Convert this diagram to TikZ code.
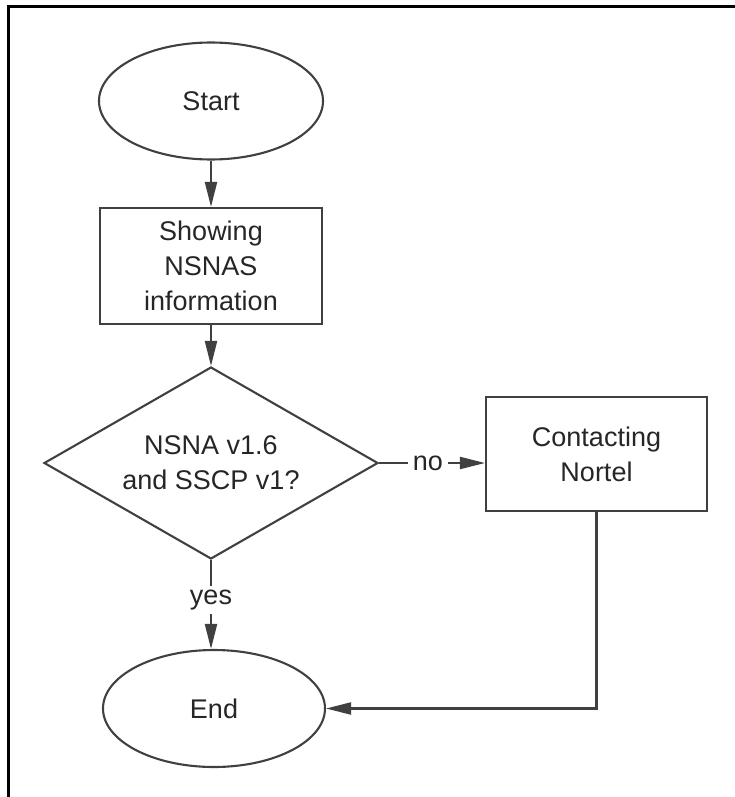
\documentclass[tikz,border=0pt]{standalone}
\usepackage{fontspec}
\setmainfont{Liberation Sans}
\usetikzlibrary{shapes.geometric,arrows.meta}
\begin{document}
\begin{tikzpicture}[x=1pt,y=-1pt,
  every node/.style={font=\fontsize{27}{35}\selectfont, text=black!85},
  shapeline/.style={draw=black!75, line width=2.1pt},
  term/.style={shapeline, ellipse, minimum width=224pt, minimum height=117pt, inner sep=0pt},
  proc/.style={shapeline, rectangle, minimum width=222pt, minimum height=116pt, inner sep=0pt, align=center},
  decis/.style={shapeline, diamond, aspect=1.74, minimum width=334pt, minimum height=192pt, inner sep=0pt, align=center},
  conn/.style={draw=black!75, line width=2.1pt, -{Triangle[length=25pt,width=12pt]}},
  lbl/.style={fill=white, inner sep=5pt}
]
\useasboundingbox (0,0) rectangle (735,797);
% frame (top and left)
\draw[line width=3pt, black] (8,797) -- (8,7) -- (735,7);

\node[term] (start) at (211,101) {Start};
\node[proc] (show) at (211,266) {Showing\\NSNAS\\information};
\node[decis] (dec) at (211,463) {NSNA v1.6\\and SSCP v1?};
\node[proc, minimum width=221pt, minimum height=114pt] (cont) at (596.5,454) {Contacting\\Nortel};
\node[term, minimum width=222pt] (end) at (214,708.5) {End};

\draw[conn] (start) -- (show);
\draw[conn] (show) -- (dec);
\draw[conn] (dec.east) -- node[lbl, pos=0.46] {no} (dec.east -| cont.west);
\draw[conn] (dec.south) -- node[lbl, pos=0.45, inner sep=4pt] {yes} (dec.south |- end.north);
\draw[conn] (cont.south) |- (end.east);
\end{tikzpicture}
\end{document}
